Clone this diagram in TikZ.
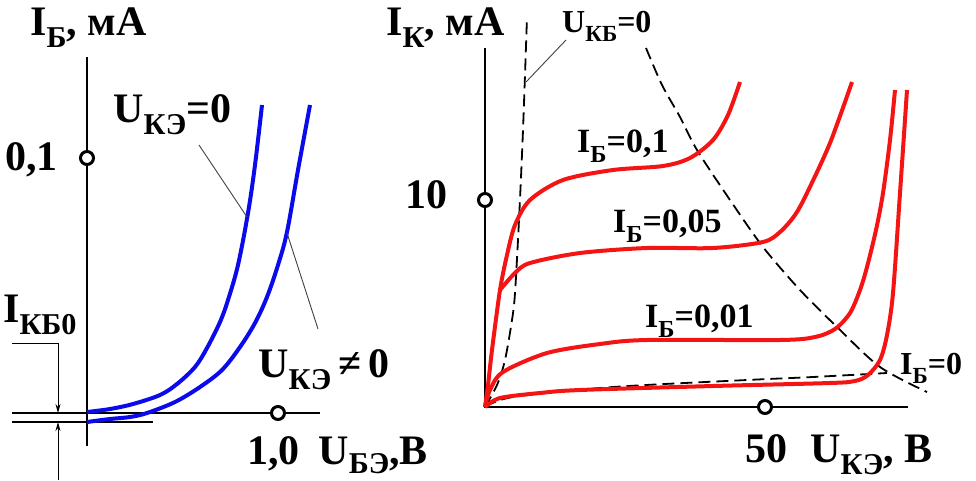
\documentclass[tikz,border=0pt]{standalone}
\usepackage{fontspec}
\setmainfont{Liberation Serif}
\usetikzlibrary{arrows.meta}
\definecolor{cblue}{RGB}{10,10,235}
\definecolor{cred}{RGB}{245,20,20}
\newcommand{\sbs}[1]{\raisebox{-0.3em}{\fontsize{0.72\dimexpr\csname f@size\endcsname pt\relax}{1em}\selectfont #1}}
\newcommand{\sbsh}[1]{\raisebox{-0.22em}{\fontsize{0.72\dimexpr\csname f@size\endcsname pt\relax}{1em}\selectfont #1}}
\begin{document}
\begin{tikzpicture}[x=1pt,y=-1pt,
  axis/.style={line width=2.6pt},
  tickc/.style={circle,draw,line width=3pt,fill=white,inner sep=0pt,minimum size=13pt},
  bluec/.style={cblue,line width=4pt},
  redc/.style={cred,line width=4pt},
  dashc/.style={line width=1.8pt,dash pattern=on 12pt off 6pt},
  leader/.style={line width=0.9pt,black!75},
  big/.style={font=\bfseries\fontsize{42}{46}\selectfont,inner sep=0pt},
  small/.style={font=\bfseries\fontsize{34}{38}\selectfont,inner sep=0pt},
  tiny/.style={font=\bfseries\fontsize{32}{36}\selectfont,inner sep=0pt}]
\useasboundingbox (0,0) rectangle (976,480);
% ---------- left plot ----------
\draw[axis] (87,57) -- (87,446);
\draw[axis] (12,413) -- (320,413);
\draw[line width=1.3pt] (12,422) -- (153,422);
\coordinate (ka) at (12,343);
\coordinate (kb) at (58,343);
\coordinate (kc) at (58,413);
\coordinate (kd) at (58,480);
\coordinate (ke) at (58,422);
\draw[line width=1pt,-{Stealth[length=9pt,width=5pt]}] (ka) -- (kb) -- (kc);
\draw[line width=1pt,-{Stealth[length=9pt,width=5pt]}] (kd) -- (ke);
\draw[bluec] plot[smooth,tension=0.55] coordinates {(87,412) (110,409) (133,404) (160,395) (177,384) (195,367) (207,348) (220,322) (228,300) (238,265) (248,213) (255,165) (262,105)};
\draw[bluec] plot[smooth,tension=0.55] coordinates {(87,422) (110,419) (130,417) (147,413) (175,402) (200,387) (222,370) (240,347) (255,323) (267,297) (278,265) (287,232) (298,170) (310,105)};
\coordinate (la1) at (199,145); \coordinate (lb1) at (247,217);
\coordinate (la2) at (287,233); \coordinate (lb2) at (318,329);
\draw[leader] (la1) -- (lb1);
\draw[leader] (la2) -- (lb2);
\node[tickc] (t01) at (87,158) {};
\node[tickc] (t10) at (278,413) {};
\node[big,anchor=base west] (ib) at (30,35) {I\sbs{Б}, мА};
\node[big,anchor=base east] (n01) at (58,170) {0,1};
\node[big,anchor=base west] (uk0) at (113,122) {U\sbs{КЭ}=0};
\node[big,anchor=base west] (ukn) at (258,377) {U\sbs{КЭ}\,≠\,0};
\node[big,anchor=base west] (ikb) at (3,322) {I\sbs{КБ0}};
\node[big,anchor=base west] (ube) at (247,464) {1,0\hspace{0.2em} U\sbsh{БЭ},В};
% ---------- right plot ----------
\draw[axis] (485,48) -- (485,408);
\draw[axis] (484,407) -- (908,407);
\draw[dashc] plot[smooth,tension=0.5] coordinates {(485,407) (497,385) (505,360) (512,320) (515,293) (519,220) (523,130) (527,17)};
\draw[dashc] plot[smooth,tension=0.5] coordinates {(646,48) (662,85) (680,117) (697,150) (730,200) (763,247) (800,290) (837,327) (880,367) (927,392)};
\draw[dashc] plot[smooth,tension=0.5] coordinates {(485,407) (513,397) (613,387) (747,380) (813,377) (887,373)};
\draw[redc] plot[smooth,tension=0.5] coordinates {(485,407) (488,385) (492,350) (500,290) (507,255) (515,225) (530,200) (563,180) (613,170) (663,166) (690,158) (713,140) (728,115) (740,82)};
\draw[redc] plot[smooth,tension=0.5] coordinates {(500,290) (515,273) (530,263) (580,253) (647,248) (713,248) (763,242) (780,232) (795,215) (807,193) (830,143) (852,82)};
\draw[redc] plot[smooth,tension=0.5] coordinates {(485,407) (490,390) (503,372) (547,353) (600,344) (647,340) (780,340) (815,337) (835,329) (850,313) (860,290) (867,267) (876,230) (883,193) (890,140) (895,90)};
\draw[redc] plot[smooth,tension=0.5] coordinates {(485,407) (500,398) (540,393) (580,390) (713,386) (830,383) (855,381) (868,375) (880,360) (887,335) (893,293) (900,193) (907,90)};
\coordinate (lc1) at (566,40); \coordinate (lc2) at (526,82);
\draw[leader] (lc1) -- (lc2);
\node[tickc] (t10r) at (485,200) {};
\node[tickc] (t50) at (765,407) {};
\node[big,anchor=base west] (ik) at (386,35) {I\sbs{К}, мА};
\node[big,anchor=base east] (n10) at (448,208) {10};
\node[tiny,anchor=base west] (ukb) at (562,32) {U\sbs{КБ}=0};
\node[big,anchor=base west] (uke) at (745,462) {50\hspace{0.3em} U\sbs{КЭ}, В};
\node[tiny,anchor=base west] (ib0) at (900,374) {I\sbs{Б}=0};
\node[small,anchor=base west] (ib1) at (577,152) {I\sbs{Б}=0,1};
\node[small,anchor=base west] (ib2) at (613,232) {I\sbs{Б}=0,05};
\node[small,anchor=base west] (ib3) at (645,327) {I\sbs{Б}=0,01};
\end{tikzpicture}
\end{document}
